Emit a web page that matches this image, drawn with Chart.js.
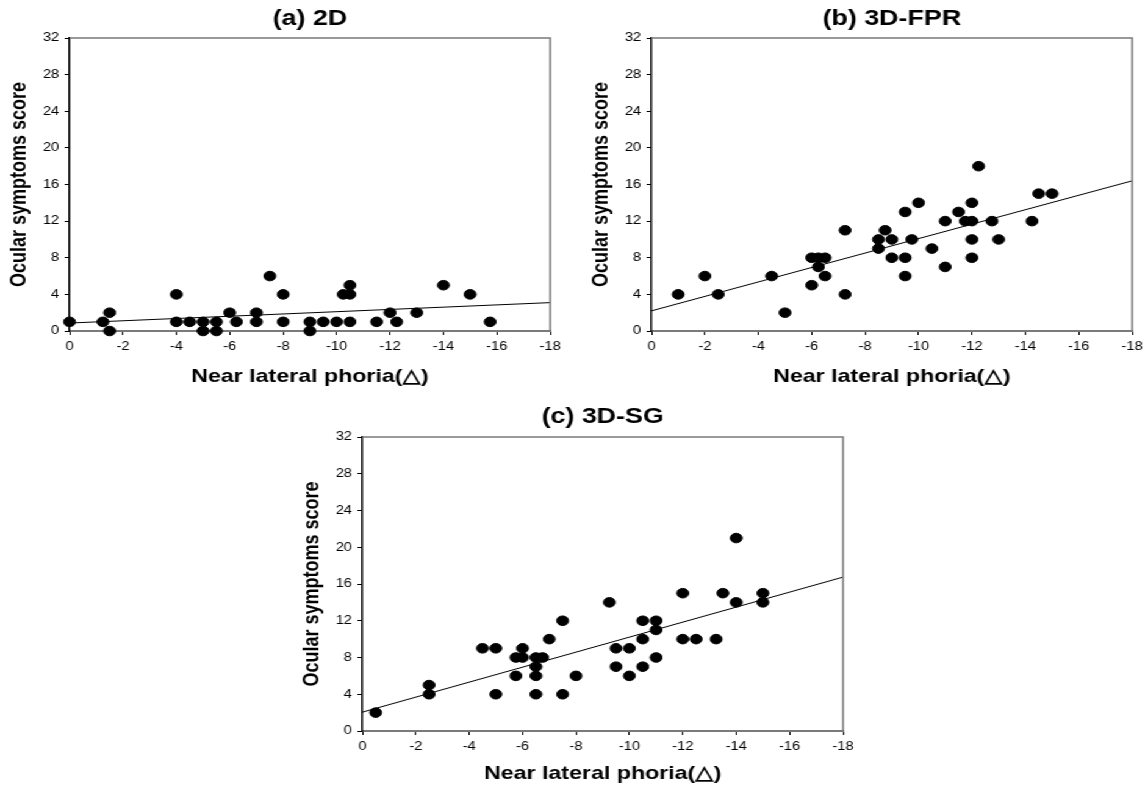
<!DOCTYPE html>
<html>
<head>
  <meta charset="UTF-8">
  <title>Ocular symptoms vs near lateral phoria</title>
  <script src="https://cdn.jsdelivr.net/npm/chart.js"></script>
  <style>
    html, body { margin: 0; padding: 0; background: #fff; overflow: hidden; }
    /* the whole figure is a bit wider than tall, stretch it sideways */
    #figure {
      position: relative;
      width: 940px;
      height: 787px;
      transform: scaleX(1.22);
      transform-origin: 0 0;
    }
    #figure canvas { position: absolute; }
  </style>
</head>
<body>
<div id="figure">
  <canvas id="chart2D" width="466" height="395" style="left:0px;top:0px;"></canvas>
  <canvas id="chartFPR" width="466" height="395" style="left:477px;top:0px;"></canvas>
  <canvas id="chartSG" width="466" height="387" style="left:240px;top:400px;"></canvas>
</div>

<script>
  // (a) 2D
  const phoria2D = [0, -1.25, -1.5, -1.5, -4, -4, -4.5, -5, -5, -5.5, -5.5, -6, -6.25, -7, -7, -7.5, -8, -8,
    -9, -9, -9.5, -10, -10.25, -10.5, -10.5, -10.5, -11.5, -12, -12.25, -13, -14, -15, -15.75];
  const score2D = [1, 1, 2, 0, 4, 1, 1, 1, 0, 1, 0, 2, 1, 2, 1, 6, 4, 1,
    1, 0, 1, 1, 4, 5, 4, 1, 1, 2, 1, 2, 5, 4, 1];

  // (b) 3D-FPR
  const phoriaFPR = [-1, -2, -2.5, -4.5, -5, -6, -6, -6.25, -6.25, -6.5, -6.5, -7.25, -7.25, -8.5, -8.5, -8.75,
    -9, -9, -9.5, -9.5, -9.5, -9.75, -10, -10.5, -11, -11, -11.5, -11.75, -12, -12, -12, -12, -12.25, -12.75,
    -13, -14.25, -14.5, -15];
  const scoreFPR = [4, 6, 4, 6, 2, 8, 5, 8, 7, 8, 6, 11, 4, 10, 9, 11,
    10, 8, 13, 8, 6, 10, 14, 9, 12, 7, 13, 12, 14, 12, 10, 8, 18, 12,
    10, 12, 15, 15];

  // (c) 3D-SG
  const phoriaSG = [-0.5, -2.5, -2.5, -4.5, -5, -5, -5.75, -5.75, -6, -6, -6.5, -6.5, -6.5, -6.5, -6.75, -7,
    -7.5, -7.5, -8, -9.25, -9.5, -9.5, -10, -10, -10.5, -10.5, -10.5, -11, -11, -11, -12, -12, -12.5, -13.25,
    -13.5, -14, -14, -15, -15];
  const scoreSG = [2, 5, 4, 9, 9, 4, 8, 6, 9, 8, 8, 7, 6, 4, 8, 10,
    12, 4, 6, 14, 9, 7, 9, 6, 12, 10, 7, 12, 11, 8, 15, 10, 10, 10,
    15, 21, 14, 15, 14];

  // regression lines, value at the two ends of the x range
  const fitX = [0, -18];
  const fit2D = [0.87, 3.1];
  const fitFPR = [2.2, 16.4];
  const fitSG = [2.05, 16.75];

  const FONT = '"Liberation Sans", Arial, sans-serif';

  function pairs(xs, ys) {
    return xs.map((x, i) => ({x: x, y: ys[i]}));
  }

  // grey frame on the top and right side of the plot
  const frame = {
    id: 'frame',
    afterDraw(chart) {
      const a = chart.chartArea;
      const ctx = chart.ctx;
      ctx.save();
      ctx.strokeStyle = '#7a7a7a';
      ctx.lineWidth = 1.5;
      ctx.beginPath();
      ctx.moveTo(a.left, a.top);
      ctx.lineTo(a.right, a.top);
      ctx.lineTo(a.right, a.bottom);
      ctx.stroke();
      ctx.restore();
    }
  };

  function makePanel(canvasId, title, xs, ys, fit, lay) {
    new Chart(document.getElementById(canvasId), {
      type: 'scatter',
      data: {
        datasets: [{
          data: pairs(xs, ys),
          backgroundColor: '#000',
          borderColor: '#000',
          pointRadius: 4.8,
          pointHoverRadius: 4.8,
          clip: false
        }, {
          type: 'line',
          data: pairs(fitX, fit),
          borderColor: '#000',
          borderWidth: 1,
          pointRadius: 0,
          fill: false,
          clip: false
        }]
      },
      plugins: [frame],
      options: {
        responsive: false,
        animation: false,
        events: [],
        layout: {padding: {left: 0, right: 15, top: 0, bottom: 0}},
        plugins: {
          legend: {display: false},
          tooltip: {enabled: false},
          title: {
            display: true,
            text: title,
            fullSize: false,
            color: '#000',
            font: {family: FONT, size: 22, weight: 'bold'},
            padding: {top: lay.titleTop, bottom: lay.titleBottom}
          }
        },
        scales: {
          x: {
            type: 'linear',
            reverse: true,
            min: -18,
            max: 0,
            afterFit: s => { s.height = lay.xHeight; },
            ticks: {stepSize: 2, maxRotation: 0, color: '#000', padding: 4.5,
              font: {family: FONT, size: 12}},
            grid: {drawOnChartArea: false, drawTicks: true, tickLength: 4, color: '#000'},
            border: {color: '#7a7a7a', width: 2},
            title: {
              display: true,
              text: 'Near lateral phoria(△)',
              color: '#000',
              font: {family: FONT, size: 19, weight: 'bold'},
              padding: {top: 0, bottom: lay.xTitleBottom}
            }
          },
          y: {
            min: 0,
            max: 32,
            afterFit: s => { s.width = 57; },
            ticks: {stepSize: 4, color: '#000', padding: 4.5,
              font: {family: FONT, size: 12}},
            grid: {drawOnChartArea: false, drawTicks: true, tickLength: 4, color: '#000'},
            border: {color: '#000', width: 1.5},
            title: {
              display: true,
              text: 'Ocular symptoms score',
              color: '#000',
              font: {family: FONT, size: 18, weight: 'bold'},
              padding: {top: 4.8, bottom: 0}
            }
          }
        }
      }
    });
  }

  makePanel('chart2D', '(a) 2D', phoria2D, score2D, fit2D,
    {titleTop: 5.3, titleBottom: 6.3, xHeight: 64, xTitleBottom: 7.1});
  makePanel('chartFPR', '(b) 3D-FPR', phoriaFPR, scoreFPR, fitFPR,
    {titleTop: 5.3, titleBottom: 6.3, xHeight: 64, xTitleBottom: 7.1});
  makePanel('chartSG', '(c) 3D-SG', phoriaSG, scoreSG, fitSG,
    {titleTop: 3.8, titleBottom: 6.8, xHeight: 56, xTitleBottom: 2.1});
</script>
</body>
</html>
